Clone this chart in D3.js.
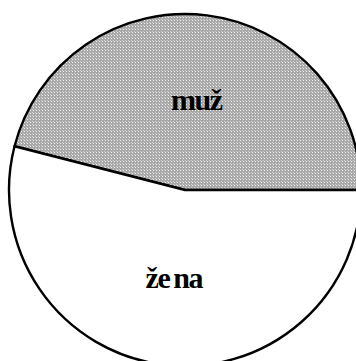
<!DOCTYPE html>
<html>
<head>
<meta charset="utf-8">
<script src="https://cdn.jsdelivr.net/npm/d3@7"></script>
<style>
  html, body { margin: 0; padding: 0; background: #fff; }
  svg { display: block; }
  .lbl { font-family: "Liberation Serif", "Times New Roman", Times, serif; font-weight: bold; }
</style>
</head>
<body>
<div id="chart"></div>
<script>
// slices of the pie (share in %)
const groups = ["muž", "žena"];
const shares = [46, 54];

const width = 356, height = 361;
const cx = 185, cy = 190, radius = 176;

const svg = d3.select("#chart")
    .append("svg")
    .attr("width", width)
    .attr("height", height);

// grey dotted fill for the first slice
const defs = svg.append("defs");
const pat = defs.append("pattern")
    .attr("id", "dots")
    .attr("patternUnits", "userSpaceOnUse")
    .attr("width", 3)
    .attr("height", 3);
pat.append("rect").attr("width", 3).attr("height", 3).attr("fill", "#a8a8a8");
pat.append("rect").attr("x", 1).attr("y", 1).attr("width", 1).attr("height", 1).attr("fill", "#f0f0f0");
pat.append("rect").attr("x", 0).attr("y", 0).attr("width", 1).attr("height", 1).attr("fill", "#d0d0d0");

const data = groups.map((g, i) => ({group: g, value: shares[i]}));
const total = d3.sum(shares);

// first slice ends exactly at 3 o'clock
const start = Math.PI / 2 - 2 * Math.PI * shares[0] / total;
const pie = d3.pie()
    .sort(null)
    .value(d => d.value)
    .startAngle(start)
    .endAngle(start + 2 * Math.PI);

const arc = d3.arc().innerRadius(0).outerRadius(radius);
const fills = ["url(#dots)", "#ffffff"];

const g = svg.append("g")
    .attr("transform", `translate(${cx},${cy})`);

const arcs = pie(data);

g.selectAll("path")
    .data(arcs)
    .join("path")
    .attr("d", arc)
    .attr("fill", (d, i) => fills[i])
    .attr("stroke", "#000")
    .attr("stroke-width", 2.4)
    .attr("stroke-linejoin", "round");

// labels sit a bit further out than the default centroid
const labelArc = d3.arc().innerRadius(0).outerRadius(radius * 1.02);

const labels = g.selectAll("text")
    .data(arcs)
    .join("text")
    .attr("class", "lbl")
    .attr("transform", d => {
        const [x, y] = labelArc.centroid(d);
        return `translate(${x},${y + 9})`;
    })
    .attr("text-anchor", "middle")
    .attr("font-size", 30)
    .attr("letter-spacing", -1.5)
    .attr("fill", "#000");

labels.each(function(d) {
    const t = d3.select(this);
    if (d.data.group === "žena") {
        t.append("tspan").text("že");
        t.append("tspan").attr("dx", 4).text("na");
    } else {
        t.text(d.data.group);
    }
});
</script>
</body>
</html>
